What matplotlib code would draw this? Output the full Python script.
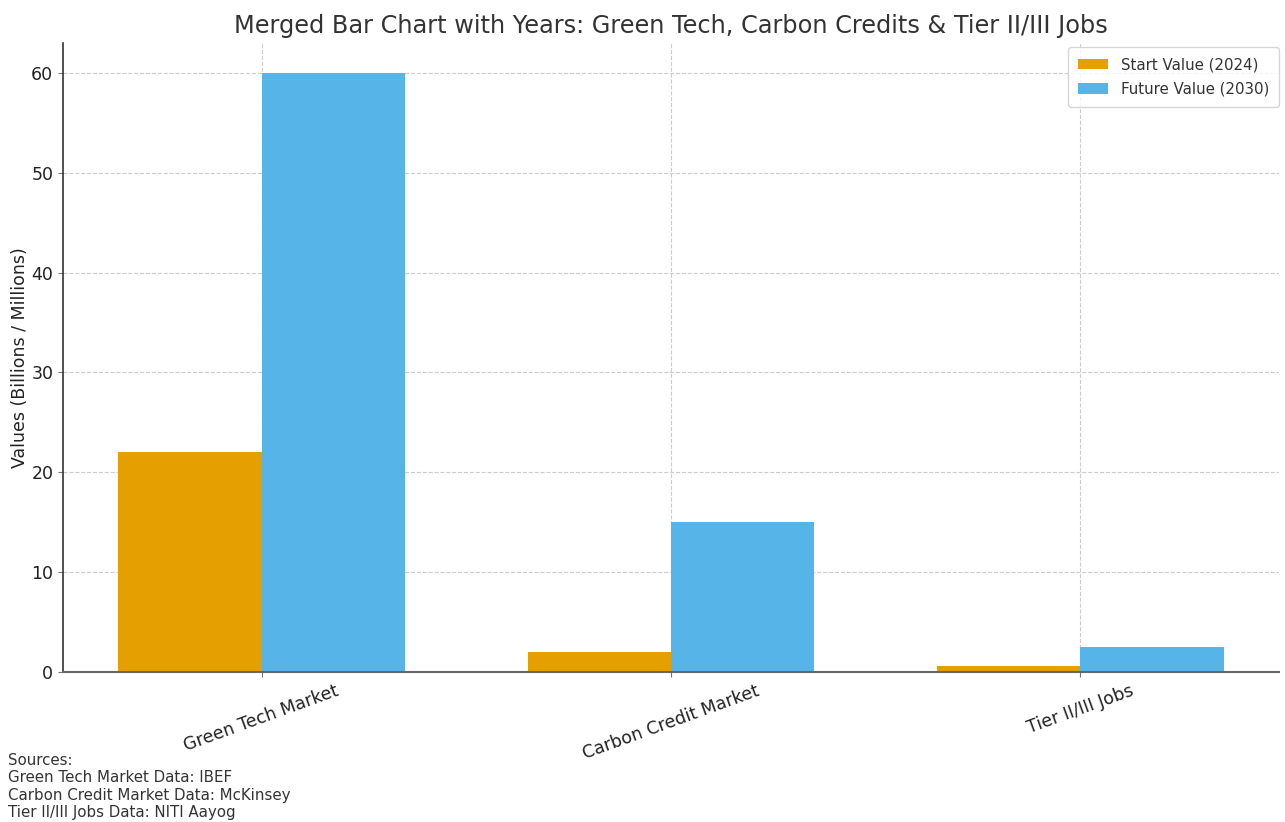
import matplotlib
matplotlib.use("Agg")
import matplotlib.pyplot as plt
import numpy as np

categories = ["Green Tech Market", "Carbon Credit Market", "Tier II/III Jobs"]
start_values = [22, 2, 0.6]
future_values = [60, 15, 2.5]
series_labels = ["Start Value (2024)", "Future Value (2030)"]
title = "Merged Bar Chart with Years: Green Tech, Carbon Credits & Tier II/III Jobs"
ylabel = "Values (Billions / Millions)"
sources = ("Sources:\nGreen Tech Market Data: IBEF\n"
           "Carbon Credit Market Data: McKinsey\nTier II/III Jobs Data: NITI Aayog")

fig = plt.figure(figsize=(12.85, 8.22), dpi=100)
ax = fig.add_axes([63/1285, 1 - 672/822, (1279-63)/1285, (672-43)/822])

x = np.arange(len(categories))
w = 0.35
ax.bar(x - w/2, start_values, w, color="#E69F00", label=series_labels[0], zorder=2)
ax.bar(x + w/2, future_values, w, color="#56B4E9", label=series_labels[1], zorder=2)

ax.set_xticks(x)
ax.set_xticklabels(categories, rotation=20, ha="center", fontsize=12.5, color="#222222")
ax.tick_params(axis="y", labelsize=12.5, labelcolor="#222222", color="#777777")
ax.tick_params(axis="x", color="#777777")
ax.set_ylabel(ylabel, fontsize=12.5, color="#222222", labelpad=1.5)
ax.set_title(title, fontsize=17.3, color="#333333", pad=7)
ax.grid(True, linestyle="--", color="#cccccc", linewidth=0.8, zorder=0)
ax.set_axisbelow(True)
for s in ["top", "right"]:
    ax.spines[s].set_visible(False)
ax.spines["left"].set_color("#333333")
ax.spines["bottom"].set_color("#666666")
ax.spines["bottom"].set_linewidth(1.5)
ax.spines["left"].set_linewidth(1.2)

leg = ax.legend(loc="upper right", fontsize=10.8, frameon=True, borderaxespad=0.3,
                bbox_to_anchor=(1.004, 1.0), borderpad=0.65, labelspacing=0.65,
                handletextpad=0.9)
for t in leg.get_texts():
    t.set_color("#333333")

fig.text(8/1285, 2/822, sources, fontsize=10.8, color="#333333", ha="left", va="bottom",
         linespacing=1.2)

fig.savefig("out.png", dpi=100)
